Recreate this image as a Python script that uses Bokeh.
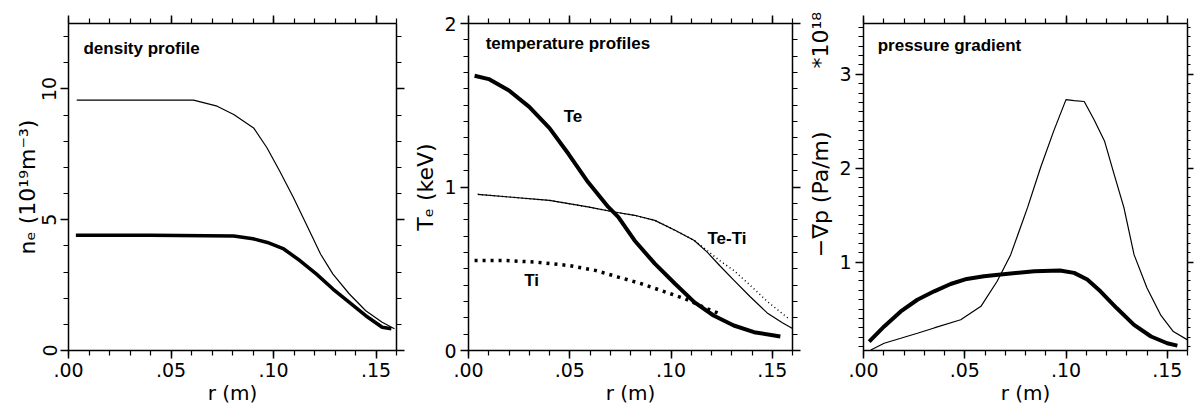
import numpy as np
from bokeh.plotting import figure
from bokeh.layouts import row
from bokeh.models import LinearAxis, FixedTicker, Range1d, Label
from bokeh.embed import file_html
from bokeh.resources import INLINE

# ---------------- data ----------------
r_ticks = [0.0, 0.05, 0.10, 0.15]
r_tick_labels = [".00", ".05", ".10", ".15"]

# panel 1 : density profiles (10^19 m^-3)
dens_thin_r = [0.004, 0.02, 0.04, 0.061, 0.0725, 0.0806, 0.0903, 0.0968, 0.103, 0.1097,
               0.116, 0.123, 0.129, 0.137, 0.145, 0.153, 0.159]
dens_thin = [9.57, 9.57, 9.57, 9.57, 9.34, 9.02, 8.51, 7.75, 6.86, 5.85,
             4.83, 3.68, 2.92, 2.16, 1.52, 1.08, 0.83]
dens_thick_r = [0.0036, 0.04, 0.0806, 0.09, 0.097, 0.105, 0.113, 0.121, 0.129, 0.137,
                0.145, 0.153, 0.1575]
dens_thick = [4.41, 4.41, 4.38, 4.27, 4.13, 3.88, 3.43, 2.92, 2.35, 1.84,
              1.33, 0.89, 0.83]

# panel 2 : temperature profiles (keV)
te_r = [0.003, 0.010, 0.020, 0.030, 0.040, 0.0495, 0.059, 0.069, 0.074, 0.082,
        0.092, 0.102, 0.1115, 0.121, 0.131, 0.141, 0.154]
te = [1.68, 1.66, 1.59, 1.49, 1.36, 1.20, 1.03, 0.878, 0.816, 0.673,
      0.531, 0.408, 0.296, 0.214, 0.153, 0.112, 0.086]
teti_r = [0.0046, 0.020, 0.040, 0.059, 0.072, 0.082, 0.092, 0.102, 0.1115, 0.118,
          0.124, 0.131, 0.139, 0.1475, 0.155, 0.16]
teti = [0.955, 0.939, 0.918, 0.878, 0.847, 0.827, 0.796, 0.735, 0.673, 0.60,
        0.52, 0.43, 0.33, 0.23, 0.17, 0.135]
teti_dot_r = [0.0046, 0.020, 0.040, 0.059, 0.072, 0.082, 0.092, 0.102, 0.1115, 0.118,
              0.124, 0.131, 0.139, 0.1475, 0.158]
teti_dot = [0.955, 0.939, 0.918, 0.878, 0.847, 0.827, 0.796, 0.735, 0.673, 0.61,
            0.55, 0.49, 0.40, 0.30, 0.196]
ti_r = [0.003, 0.017, 0.033, 0.0495, 0.0626, 0.074, 0.0855, 0.095, 0.107, 0.118, 0.123]
ti = [0.551, 0.551, 0.541, 0.520, 0.49, 0.449, 0.408, 0.367, 0.316, 0.255, 0.23]

# panel 3 : pressure gradient (x 10^18 Pa/m)
pg_thick_r = [0.0028, 0.0102, 0.0184, 0.0266, 0.0349, 0.043, 0.051, 0.0595, 0.0678, 0.0844,
              0.097, 0.104, 0.1105, 0.117, 0.125, 0.1336, 0.142, 0.15, 0.155]
pg_thick = [0.155, 0.316, 0.476, 0.60, 0.69, 0.768, 0.822, 0.85, 0.868, 0.904,
            0.911, 0.886, 0.815, 0.69, 0.512, 0.333, 0.209, 0.137, 0.112]
pg_thin_r = [0.0036, 0.0102, 0.0184, 0.0266, 0.0349, 0.048, 0.058, 0.066, 0.0727, 0.081,
             0.0875, 0.094, 0.1, 0.104, 0.109, 0.114, 0.119, 0.1237, 0.1286, 0.1336,
             0.14, 0.1467, 0.153, 0.16]
pg_thin = [0.066, 0.137, 0.19, 0.244, 0.30, 0.387, 0.53, 0.797, 1.08, 1.58,
           2.01, 2.40, 2.73, 2.72, 2.71, 2.51, 2.29, 1.94, 1.58, 1.08,
           0.725, 0.44, 0.262, 0.173]

TICK_FONT = "DejaVu Sans"
LBL_FONT = "Liberation Sans"
H = 408
X_MINOR = [round(v, 3) for v in np.arange(0.0, 0.1605, 0.01)]


def make_axis(ticks, minor, show_labels, overrides=None, tick_out=8, minor_out=5):
    ax = LinearAxis(ticker=FixedTicker(ticks=ticks, minor_ticks=minor))
    ax.major_tick_in = 0
    ax.minor_tick_in = 0
    ax.major_tick_out = tick_out
    ax.minor_tick_out = minor_out
    ax.major_tick_line_width = 1.5
    ax.minor_tick_line_width = 1.2
    ax.major_tick_line_color = "black"
    ax.minor_tick_line_color = "black"
    ax.axis_line_width = 1.5
    ax.axis_line_color = "black"
    ax.major_label_text_font = TICK_FONT
    ax.axis_label_text_font = TICK_FONT
    ax.axis_label_text_font_style = "normal"
    ax.axis_label_text_color = "black"
    if show_labels:
        ax.major_label_text_color = "black"
        ax.major_label_text_font_size = "19px"
        ax.major_label_standoff = 4
        if overrides:
            ax.major_label_overrides = overrides
    else:
        ax.major_label_text_font_size = "1px"
        ax.major_label_text_color = None
        ax.major_label_standoff = 0
    return ax


def make_fig(width, left, right, y_lo, y_hi, y_major, y_minor, ylabel,
             y_vertical=False, right_out=8, ylabel_standoff=3):
    p = figure(width=width, height=H, x_range=Range1d(0, 0.16), y_range=Range1d(y_lo, y_hi),
               output_backend="svg", toolbar_location=None,
               x_axis_location=None, y_axis_location=None,
               min_border_left=left, min_border_right=right,
               min_border_top=23, min_border_bottom=58)
    p.xgrid.visible = False
    p.ygrid.visible = False
    p.outline_line_color = None
    p.background_fill_color = "white"
    p.border_fill_color = "white"

    xa = make_axis(r_ticks, X_MINOR, True, dict(zip(r_ticks, r_tick_labels)))
    xa.axis_label = "r (m)"
    xa.axis_label_text_font_size = "20px"
    xa.axis_label_standoff = 1
    p.add_layout(xa, "below")

    ya = make_axis(y_major, y_minor, True)
    ya.axis_label = ylabel
    ya.axis_label_text_font_size = "22px"
    ya.axis_label_standoff = ylabel_standoff
    if y_vertical:
        ya.major_label_orientation = "vertical"
    p.add_layout(ya, "left")

    p.add_layout(make_axis(r_ticks, X_MINOR, False), "above")
    p.add_layout(make_axis(y_major, y_minor, False, tick_out=right_out,
                           minor_out=max(3, right_out - 3)), "right")
    return p


def add_text(p, x, y, text, size="17px"):
    p.add_layout(Label(x=x, y=y, text=text, text_font=LBL_FONT,
                       text_font_style="bold", text_font_size=size, text_color="black",
                       text_align="left", text_baseline="middle"))


# ---------------- panel 1 ----------------
p1 = make_fig(410, 68, 14, 0, 12.5, [0, 5, 10], list(range(0, 13)),
              "nₑ (10¹⁹m⁻³)", y_vertical=True, ylabel_standoff=0)
p1.line(dens_thin_r, dens_thin, line_color="black", line_width=1.2)
p1.line(dens_thick_r, dens_thick, line_color="black", line_width=3.5)
add_text(p1, 0.0073, 11.55, "density profile")

# ---------------- panel 2 ----------------
y2_minor = [round(v, 2) for v in np.arange(0, 2.001, 0.1)]
p2 = make_fig(395, 56, 13, 0, 2, [0, 1, 2], y2_minor, "Tₑ (keV)")
p2.line(te_r, te, line_color="black", line_width=4)
p2.line(teti_r, teti, line_color="black", line_width=1.2)
p2.line(teti_dot_r, teti_dot, line_color="black", line_width=1.5, line_dash="1 3")
p2.line(ti_r, ti, line_color="black", line_width=3.5, line_dash="3 5")
add_text(p2, 0.0085, 1.878, "temperature profiles")
add_text(p2, 0.047, 1.43, "Te")
add_text(p2, 0.118, 0.684, "Te-Ti")
add_text(p2, 0.0275, 0.43, "Ti")

# ---------------- panel 3 ----------------
y3_minor = [round(v, 2) for v in np.arange(0.1, 3.55, 0.1)]
NB = "\u00a0"
y3_label = NB * 15 + "−∇p (Pa/m)" + NB * 9 + "*10¹⁸"
p3 = make_fig(389, 58, 7, 0.06, 3.54, [1, 2, 3], y3_minor, y3_label, right_out=6)
p3.line(pg_thin_r, pg_thin, line_color="black", line_width=1.2)
p3.line(pg_thick_r, pg_thick, line_color="black", line_width=4)
add_text(p3, 0.007, 3.31, "pressure gradient")

layout = row(p1, p2, p3)
open("out.html", "w").write(file_html(layout, INLINE))
